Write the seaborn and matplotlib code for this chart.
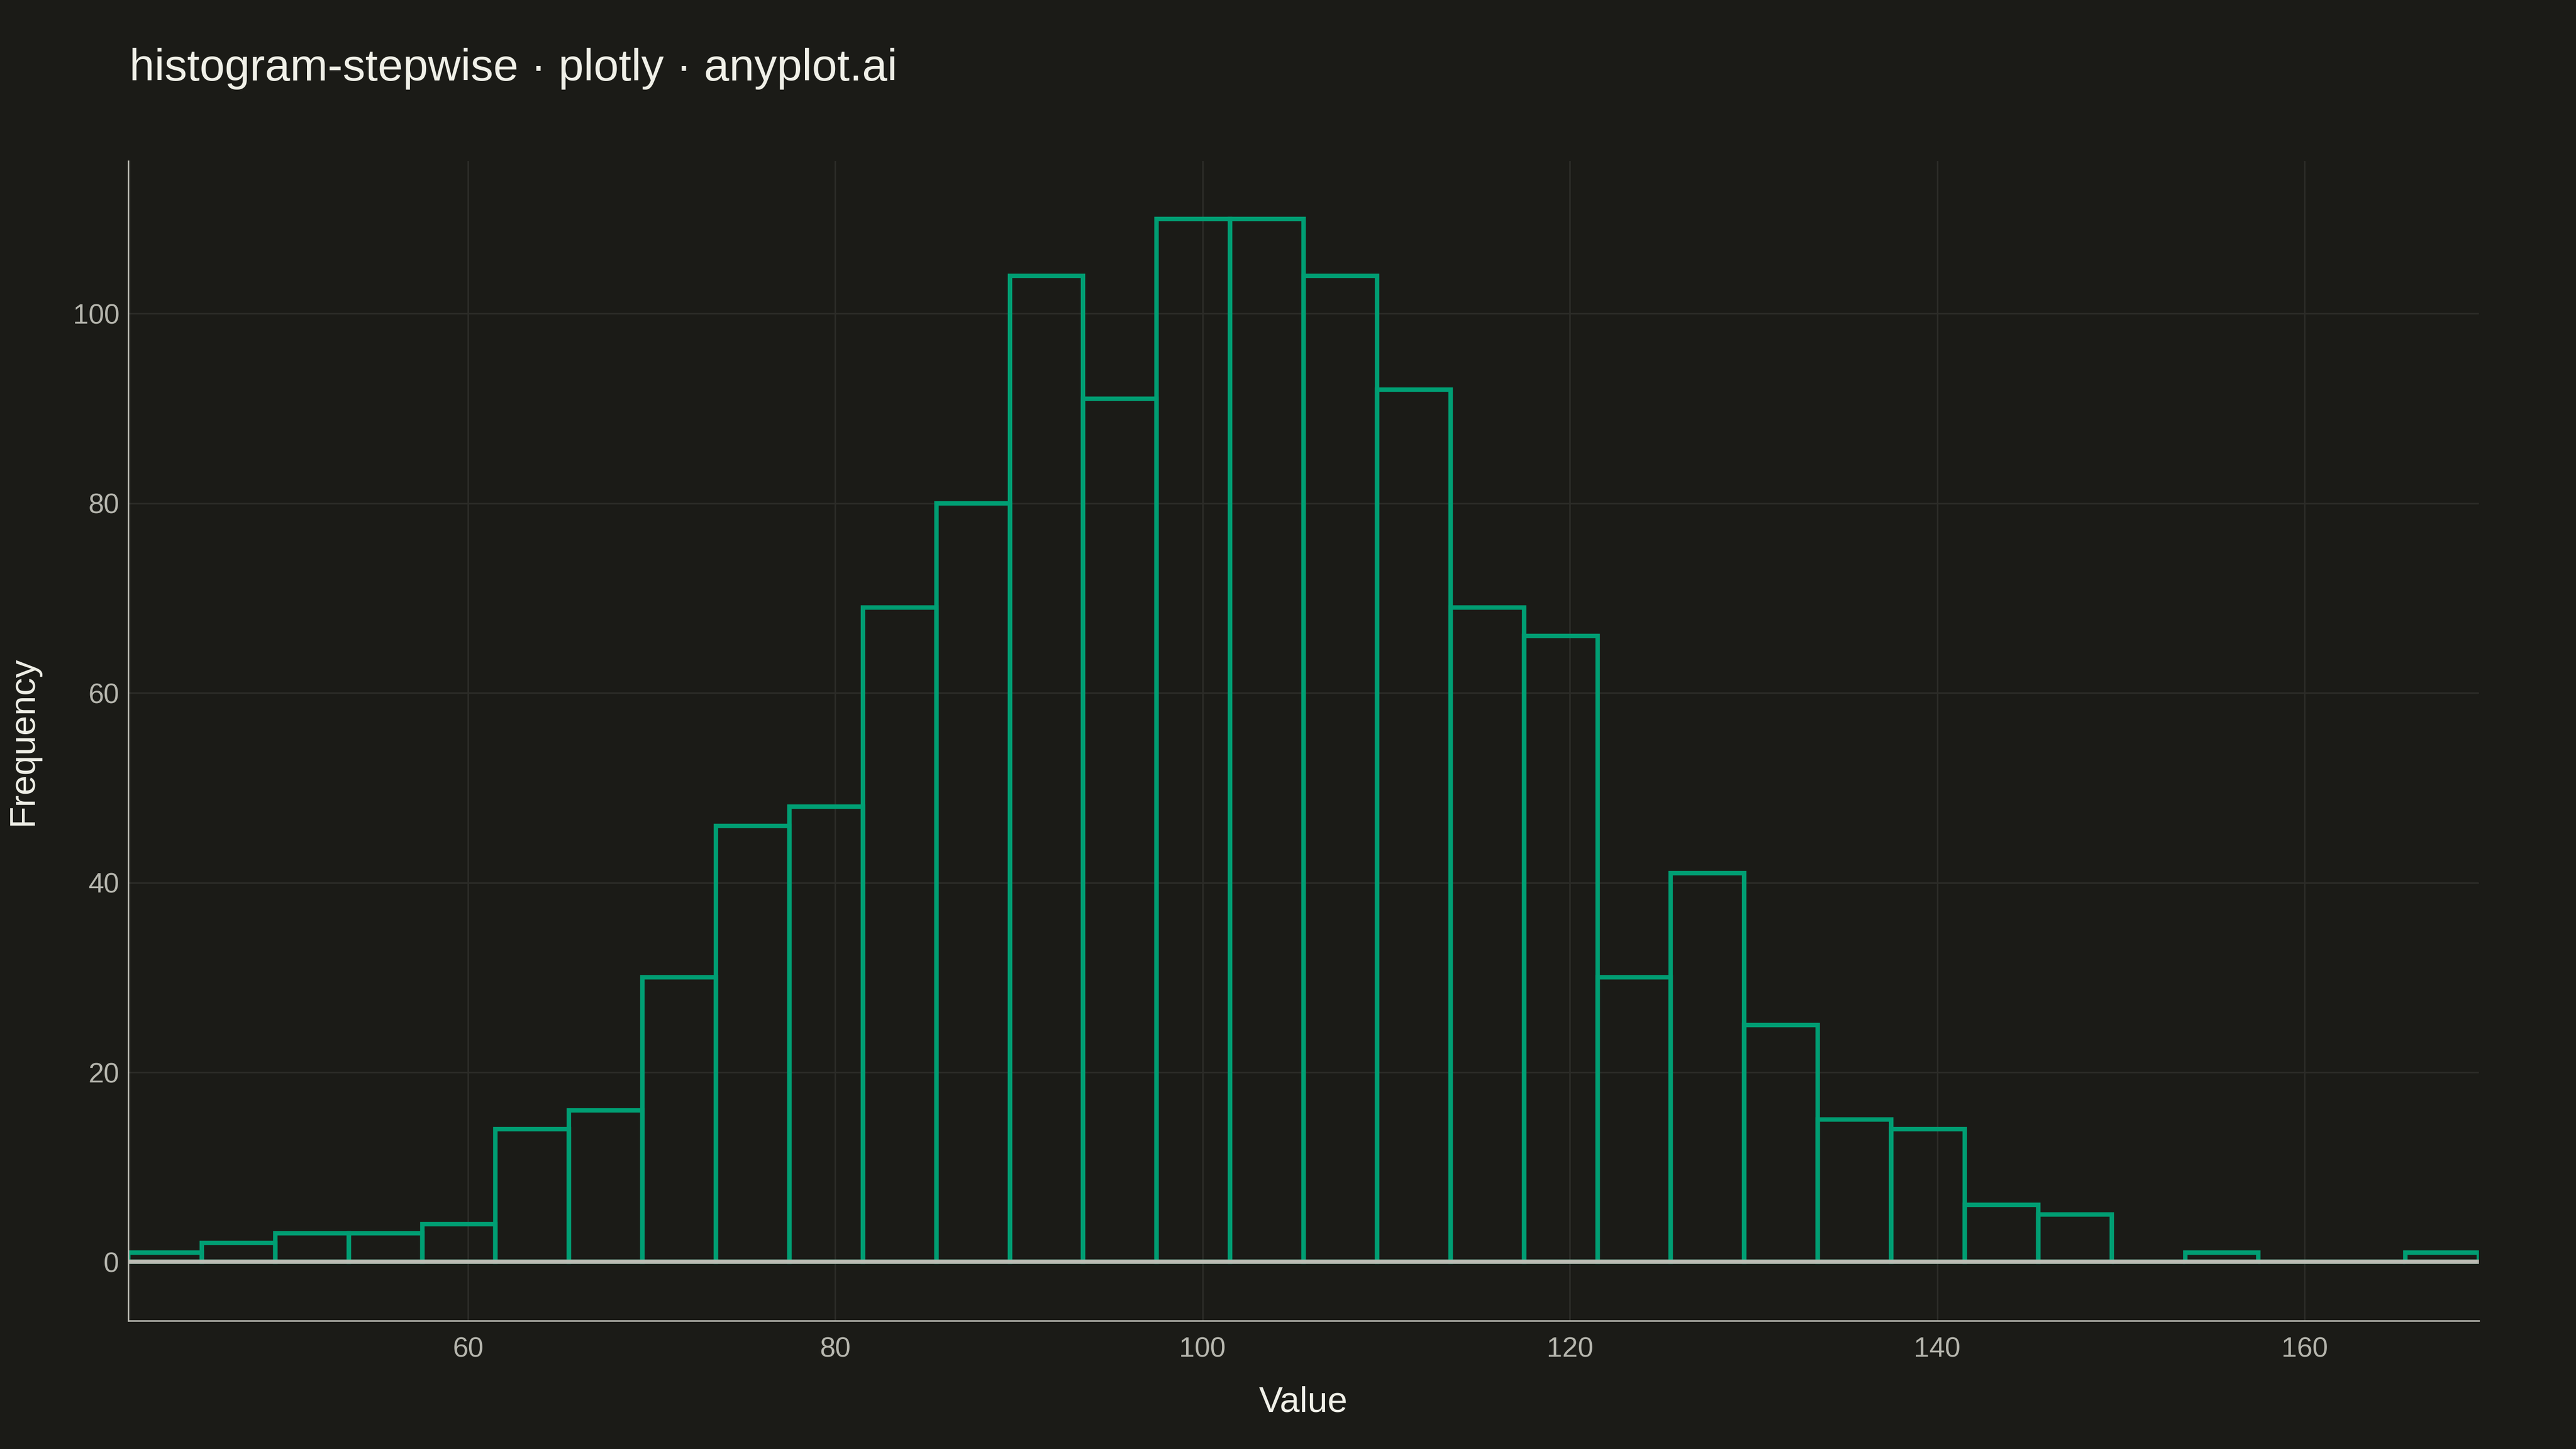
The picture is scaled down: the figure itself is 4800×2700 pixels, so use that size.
import numpy as np
import pandas as pd
import seaborn as sns
import matplotlib.pyplot as plt

# Data: histogram (bin width 4, first edge 41.5)
bin_start = 41.5
bin_width = 4
counts = [1, 2, 3, 3, 4, 14, 16, 30, 46, 48, 69, 80, 104, 91, 110, 110,
          104, 92, 69, 66, 30, 41, 25, 15, 14, 6, 5, 0, 1, 0, 0, 1]
x_ticks = [60, 80, 100, 120, 140, 160]
y_ticks = [0, 20, 40, 60, 80, 100]

bin_edges = [bin_start + bin_width * i for i in range(len(counts) + 1)]
df = pd.DataFrame({
    "Value": [e + bin_width / 2 for e in bin_edges[:-1]],
    "count": counts,
})

BG = "#1B1B17"
GRID = "#2C2C28"
AXIS = "#BDBDB5"
TICK = "#B6B6AE"
TEXT = "#F0F0E8"
GREEN = "#009E73"

sns.set_theme(style="dark")
plt.rcParams["font.family"] = ["Liberation Sans", "DejaVu Sans"]

f, ax = plt.subplots(figsize=(16, 9), dpi=300)
f.patch.set_facecolor(BG)
ax.set_facecolor(BG)
f.subplots_adjust(left=0.0498, right=0.9623, top=0.8889, bottom=0.0885)

sns.histplot(data=df, x="Value", weights="count", bins=bin_edges,
             element="bars", fill=False, color=GREEN, linewidth=2.0,
             ax=ax, zorder=2)

# zero line over the bar bottoms
ax.axhline(0, color=AXIS, linewidth=1.9, zorder=3)

ax.set_xlim(bin_edges[0], bin_edges[-1])
ax.set_ylim(-6.2, 116.1)
ax.set_xticks(x_ticks)
ax.set_yticks(y_ticks)
ax.grid(True, color=GRID, linewidth=0.7, zorder=0)
ax.set_axisbelow(True)

for side in ["top", "right"]:
    ax.spines[side].set_visible(False)
for side in ["left", "bottom"]:
    ax.spines[side].set_visible(True)
    ax.spines[side].set_color(AXIS)
    ax.spines[side].set_linewidth(0.65)

ax.tick_params(axis="both", length=0, labelsize=12.5, labelcolor=TICK)
ax.tick_params(axis="x", pad=7)
ax.tick_params(axis="y", pad=4)

ax.set_xlabel("Value", fontsize=16, color=TEXT)
ax.set_ylabel("Frequency", fontsize=16, color=TEXT)
ax.yaxis.set_label_coords(-0.0375, 0.5)
ax.xaxis.set_label_coords(0.5, -0.056)

f.text(0.0502, 0.9444, "histogram-stepwise · plotly · anyplot.ai",
       fontsize=20.2, color=TEXT, ha="left", va="baseline")

plt.savefig("out.png", dpi=300, facecolor=BG)
